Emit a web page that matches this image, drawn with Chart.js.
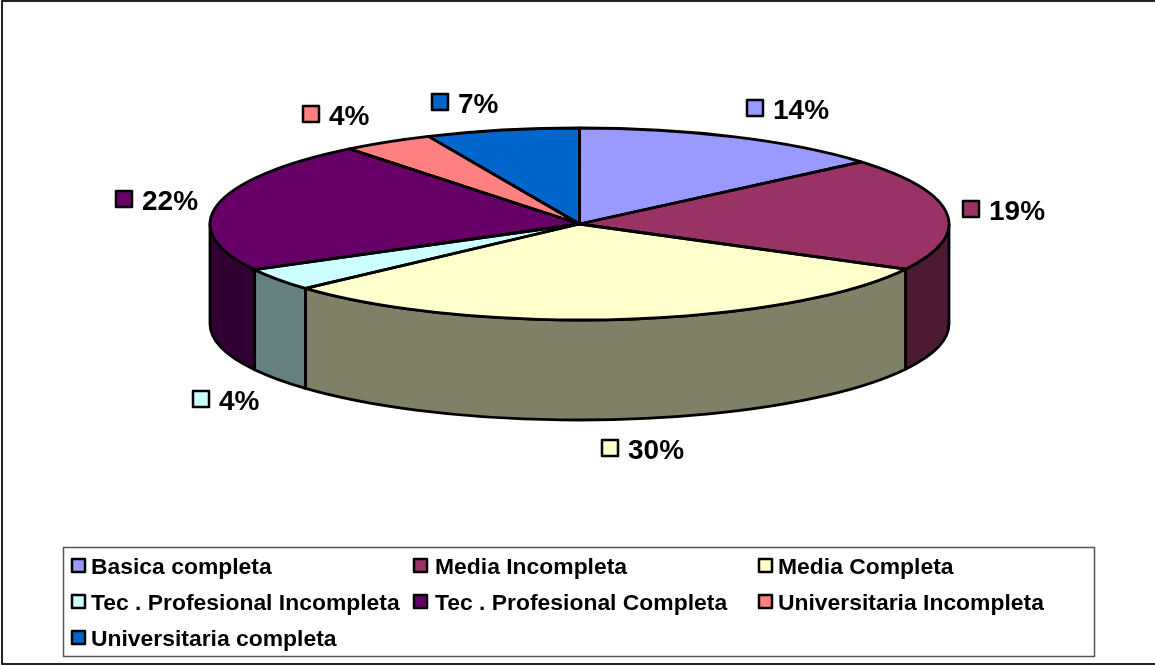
<!DOCTYPE html>
<html><head><meta charset="utf-8">
<style>html,body{margin:0;padding:0;background:#fff}canvas{display:block}</style>
<script src="https://cdn.jsdelivr.net/npm/chart.js@4/dist/chart.umd.min.js"></script>
</head><body>
<canvas id="c" width="1155" height="666"></canvas>
<script>
const categories = ["Basica completa","Media Incompleta","Media Completa","Tec . Profesional Incompleta","Tec . Profesional Completa","Universitaria Incompleta","Universitaria completa"];
const values = [13.8,19.0,30.49,3.8,22.2,4.0,6.7];
const topColors = ["#9999FF","#993366","#FFFFCC","#CCFFFF","#660066","#FF8080","#0066CC"];
const wallColors = ["#4D4D80","#4D1A33","#808066","#668080","#330033","#804040","#003366"];

const CX=579.5, CY=224, RX=369.5, RY=96, DEPTH=100;
const labelBoxes=[[755,108],[971,209],[610,448],[201,399],[124,199],[311,114],[440,102]];
const legendCols=[[72,91],[414,435],[759,778]], legendRows=[566,602,638];

function ex(a){return CX+RX*Math.cos(a);} function ey(a){return CY+RY*Math.sin(a);}
function ellipsePath(ctx,a0,a1,dy,ccw){ctx.ellipse(CX,CY+dy,RX,RY,0,a0,a1,!!ccw);}

const pie3d={
  id:'pie3d',
  beforeDatasetsDraw(chart){
    const ctx=chart.ctx, arcs=chart.getDatasetMeta(0).data;
    ctx.save();
    ctx.lineWidth=2.8; ctx.strokeStyle='#000'; ctx.lineJoin='round';
    // side walls, from the front half of each slice
    arcs.forEach((arc,i)=>{
      let a0=arc.startAngle,a1=arc.endAngle;
      [[0,Math.PI],[2*Math.PI,3*Math.PI]].forEach(([lo,hi])=>{
        const s=Math.max(a0,lo),e=Math.min(a1,hi);
        if(e<=s) return;
        ctx.beginPath();
        ellipsePath(ctx,s,e,0);
        ctx.lineTo(ex(e),ey(e)+DEPTH);
        ellipsePath(ctx,e,s,DEPTH,true);
        ctx.closePath();
        ctx.fillStyle=wallColors[i];
        ctx.fill(); ctx.stroke();
      });
    });
    ctx.restore();
    // squash the library's round pie into the ellipse
    const a=arcs[0], k=RX/a.outerRadius, m=RY/a.outerRadius;
    ctx.save();
    ctx.translate(CX,CY); ctx.scale(k,m); ctx.translate(-a.x,-a.y);
  },
  afterDatasetsDraw(chart){
    const ctx=chart.ctx, arcs=chart.getDatasetMeta(0).data;
    ctx.restore();
    ctx.save();
    ctx.lineWidth=2.8; ctx.strokeStyle='#000'; ctx.lineJoin='round';
    arcs.forEach(arc=>{
      ctx.beginPath();
      ctx.moveTo(CX,CY);
      ellipsePath(ctx,arc.startAngle,arc.endAngle,0);
      ctx.closePath();
      ctx.stroke();
    });
    // data labels
    ctx.textBaseline='middle'; ctx.textAlign='left';
    arcs.forEach((arc,i)=>{
      const [bx,by]=labelBoxes[i];
      ctx.fillStyle=topColors[i];
      ctx.lineWidth=2.5;
      ctx.fillRect(bx-8,by-8,16,16); ctx.strokeRect(bx-8,by-8,16,16);
      ctx.fillStyle='#000';
      ctx.font='bold 28px "Liberation Sans", Arial, sans-serif';
      ctx.fillText(Math.round(values[i])+'%',bx+18,by+3);
    });
    // legend
    ctx.strokeStyle='#555'; ctx.lineWidth=1.5;
    ctx.strokeRect(63.5,547.5,1031,109);
    ctx.strokeStyle='#000'; ctx.lineWidth=2.5;
    ctx.font='bold 22.9px "Liberation Sans", Arial, sans-serif';
    categories.forEach((name,i)=>{
      const [sx,tx]=legendCols[i%3], y=legendRows[Math.floor(i/3)];
      ctx.fillStyle=topColors[i];
      ctx.fillRect(sx,y-7,13,13); ctx.strokeRect(sx,y-7,13,13);
      ctx.fillStyle='#000';
      ctx.fillText(name,tx,y+2);
    });
    // outer frame
    ctx.strokeStyle='#222'; ctx.lineWidth=2;
    ctx.beginPath();
    ctx.moveTo(1155,1); ctx.lineTo(2,1); ctx.lineTo(2,664); ctx.lineTo(1155,664);
    ctx.stroke();
    ctx.restore();
  }
};

new Chart(document.getElementById('c'),{
  type:'pie',
  data:{labels:categories,datasets:[{data:values,backgroundColor:topColors,borderWidth:0}]},
  options:{
    responsive:false,animation:false,
    plugins:{legend:{display:false},tooltip:{enabled:false}}
  },
  plugins:[pie3d]
});
</script>
</body></html>
